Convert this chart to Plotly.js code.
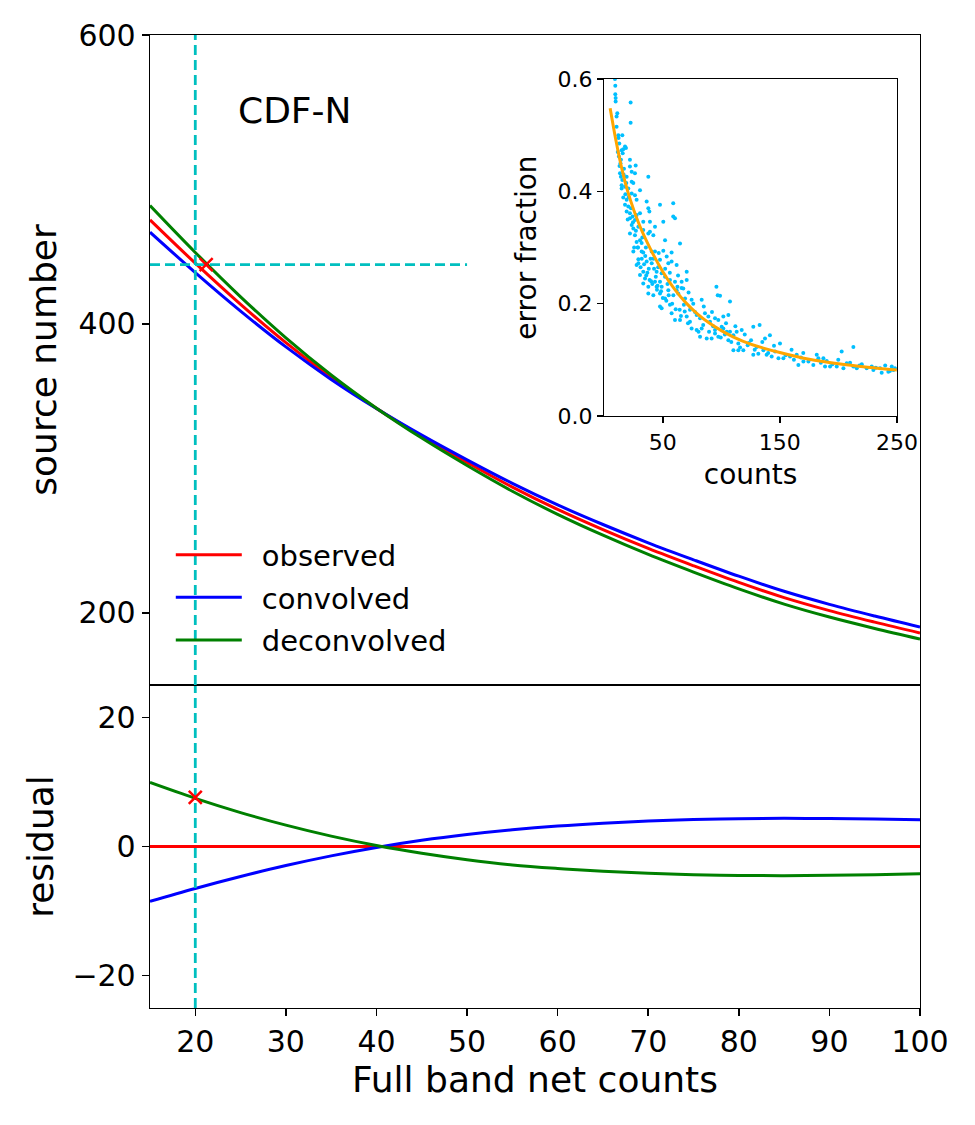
<!DOCTYPE html>
<html>
<head>
<meta charset="utf-8">
<script src="https://cdn.plot.ly/plotly-3.0.1.min.js"></script>
<style>html,body{margin:0;padding:0;background:#fff;}#chart{width:975px;height:1125px;}</style>
</head>
<body>
<div id="chart"></div>
<script>
// ---- main panel data (Full band net counts) ----
var counts = [15, 20, 25, 30, 35, 40, 45, 50, 55, 60, 65, 70, 75, 80, 85, 90, 95, 100];
var observed = [472, 442, 413.5, 387, 363, 341.5, 322, 304, 287, 271.5, 257.5, 244.5, 232.5, 221, 210.5, 201.5, 193.5, 186];
var residConvolved = [-8.5, -6.5, -4.65, -2.95, -1.45, -0.15, 0.95, 1.85, 2.58, 3.16, 3.6, 3.93, 4.16, 4.3, 4.35, 4.32, 4.24, 4.12];
var residDeconvolved = [9.9, 7.45, 5.25, 3.3, 1.6, 0.15, -1.05, -2.05, -2.85, -3.4, -3.83, -4.15, -4.37, -4.49, -4.52, -4.47, -4.37, -4.22];
var residObserved = [0, 0, 0, 0, 0, 0, 0, 0, 0, 0, 0, 0, 0, 0, 0, 0, 0, 0];

// guide lines and marked point
var guideX = 20;
var guideY = 441;
var guideXEnd = 50;
var markUpper = {x: 21.2, y: 441};
var markLower = {x: 20, y: 7.6};

// ---- inset data ----
var fitCounts = [5, 10, 15, 20, 30, 40, 50, 60, 70, 80, 90, 100, 110, 125, 150, 175, 200, 225, 250];
var fitError  = [0.548, 0.49, 0.44, 0.40, 0.34, 0.295, 0.257, 0.226, 0.201, 0.181, 0.165, 0.152, 0.141, 0.128, 0.113, 0.101, 0.093, 0.087, 0.082];

var scatterCounts = [
 9.1, 9.4, 9.4, 9.7, 9.7, 22.5, 11.1, 10.5, 22.5, 10.5, 12.0, 15.4, 12.8, 17.7, 18.5, 16.2, 15.7, 14.8,
 12.5, 14.2, 21.9, 26.8, 21.9, 23.4, 26.2, 13.4, 14.2, 15.4, 19.1, 37.6, 23.4, 24.8, 30.5, 14.8, 17.7, 20.5,
 14.8, 23.4, 26.2, 16.2, 19.1, 27.6, 36.2, 17.7, 20.5, 47.6, 58.9, 19.1, 21.9, 24.2, 27.6, 30.5, 37.6, 38.5,
 21.9, 26.2, 33.3, 39.0, 58.9, 60.4, 50.4, 23.4, 24.8, 29.1, 33.3, 39.0, 43.3, 21.9, 26.2, 37.6, 41.9, 51.9,
 64.7, 30.5, 27.6, 31.9, 24.8, 31.9, 33.3, 40.5, 43.3, 50.4, 53.3, 57.5, 47.6, 29.1,
 29.1, 36.2, 27.6, 40.5, 54.7, 57.5, 61.8, 33.3, 44.7, 30.5, 49.0, 51.9, 70.4, 70.4, 34.8, 38.7, 43.3, 47.6,
 56.1, 60.4, 66.1, 33.3, 37.6, 44.7, 49.0, 54.7, 61.8, 67.5, 37.6, 41.9, 47.6, 51.9, 59.0, 63.2, 69.0, 74.6,
 83.2, 95.8, 96.9, 98.9, 107.4, 47.6, 49.0, 56.1, 57.5, 64.4, 68.7, 73.2, 60.4, 64.7, 70.4, 73.2, 78.9, 81.8,
 86.0, 88.9, 90.3, 94.6, 97.4, 101.7, 106.0, 74.6, 78.9, 83.2, 81.8, 87.5, 91.7, 94.6, 97.4, 100.3, 101.7, 104.6,
 107.4, 110.3, 113.1, 117.4, 94.6, 106.0, 110.3, 114.5, 118.8, 114.5, 122.5, 125.4, 127.3, 132.7, 130.2, 127.3, 131.6, 135.9,
 137.3, 141.5, 138.7, 143.0, 145.9, 150.1, 148.8, 153.0, 158.7, 164.4, 165.8, 170.1, 174.4, 178.6, 181.5, 182.9, 187.2, 188.6,
 192.9, 198.6, 199.9, 202.8, 204.3, 207.1, 212.8, 212.8, 215.7, 224.2, 228.5, 229.9, 235.6, 237.0, 242.7, 245.6, 247.0, 248.4,
 35.0, 42.0, 46.0, 52.0, 38.0, 31.0, 44.0, 56.0, 63.0, 66.0, 72.0, 76.0, 85.0, 92.0, 104.0, 112.0, 120.0, 135.0,
 145.0, 160.0, 170.0, 190.0, 210.0, 220.0, 240.0, 11.5, 13.0, 16.8, 18.0, 20.0, 25.5, 28.5, 34.0, 45.0, 55.0,
 12.2, 13.8, 16.5, 18.8, 20.8, 22.8, 24.5, 27.0, 28.8, 32.5, 35.5, 36.8, 40.0, 42.5, 45.5, 48.5, 53.0, 62.5,
 32.0, 35.8, 39.5, 41.0, 46.5, 50.0, 54.0, 58.0, 61.0, 65.5, 68.0, 71.5, 77.5, 80.5, 84.5, 89.5, 93.0, 99.5,
 103.0, 108.5, 116.0, 123.5, 128.5, 140.0, 155.0, 162.0, 168.0, 185.0, 195.0, 218.0, 232.0, 244.0
];
var scatterError = [
 0.600, 0.588, 0.573, 0.566, 0.560, 0.558, 0.539, 0.533, 0.522, 0.515, 0.500, 0.500, 0.485, 0.480, 0.477, 0.475, 0.468, 0.473,
 0.462, 0.456, 0.456, 0.446, 0.444, 0.435, 0.432, 0.432, 0.426, 0.420, 0.426, 0.426, 0.417, 0.415, 0.402, 0.411, 0.408, 0.405,
 0.405, 0.396, 0.393, 0.389, 0.385, 0.385, 0.382, 0.376, 0.373, 0.376, 0.379, 0.364, 0.361, 0.355, 0.358, 0.361, 0.370, 0.364,
 0.352, 0.349, 0.346, 0.346, 0.355, 0.352, 0.346, 0.340, 0.334, 0.337, 0.331, 0.328, 0.337, 0.325, 0.322, 0.325, 0.322, 0.313,
 0.307, 0.313, 0.310, 0.308, 0.293, 0.293, 0.291, 0.293, 0.293, 0.294, 0.284, 0.291, 0.278, 0.279,
 0.272, 0.275, 0.269, 0.272, 0.272, 0.275, 0.269, 0.257, 0.257, 0.251, 0.254, 0.248, 0.257, 0.242, 0.245, 0.242, 0.239, 0.239,
 0.242, 0.239, 0.239, 0.236, 0.230, 0.230, 0.230, 0.224, 0.224, 0.227, 0.218, 0.215, 0.218, 0.209, 0.215, 0.218, 0.209, 0.207,
 0.207, 0.230, 0.215, 0.214, 0.204, 0.195, 0.192, 0.198, 0.183, 0.189, 0.186, 0.189, 0.171, 0.171, 0.177, 0.168, 0.180, 0.174,
 0.183, 0.177, 0.168, 0.174, 0.171, 0.177, 0.180, 0.156, 0.153, 0.156, 0.141, 0.138, 0.138, 0.147, 0.141, 0.159, 0.156, 0.150,
 0.150, 0.144, 0.150, 0.153, 0.153, 0.135, 0.117, 0.117, 0.117, 0.129, 0.126, 0.135, 0.159, 0.162, 0.123, 0.109, 0.111, 0.117,
 0.138, 0.144, 0.109, 0.106, 0.115, 0.129, 0.103, 0.103, 0.106, 0.109, 0.091, 0.097, 0.097, 0.091, 0.109, 0.103, 0.103, 0.088,
 0.088, 0.088, 0.100, 0.115, 0.085, 0.094, 0.123, 0.088, 0.085, 0.085, 0.088, 0.082, 0.085, 0.077, 0.079, 0.088, 0.082, 0.085,
 0.285, 0.280, 0.265, 0.262, 0.262, 0.265, 0.248, 0.255, 0.250, 0.228, 0.220, 0.200, 0.195, 0.185, 0.165, 0.160, 0.145, 0.132,
 0.125, 0.118, 0.112, 0.098, 0.095, 0.092, 0.090, 0.470, 0.445, 0.440, 0.395, 0.350, 0.300, 0.300, 0.270, 0.225, 0.215,
 0.495, 0.450, 0.430, 0.415, 0.390, 0.370, 0.345, 0.330, 0.300, 0.318, 0.300, 0.255, 0.240, 0.262, 0.232, 0.222, 0.205, 0.230,
 0.280, 0.250, 0.280, 0.235, 0.290, 0.210, 0.235, 0.200, 0.190, 0.178, 0.198, 0.165, 0.185, 0.150, 0.162, 0.150, 0.160, 0.140,
 0.145, 0.132, 0.122, 0.130, 0.118, 0.112, 0.108, 0.100, 0.104, 0.095, 0.092, 0.090, 0.086, 0.080
];

// derived model curves = observed + residual
var convolved = observed.map(function (v, i) { return v + residConvolved[i]; });
var deconvolved = observed.map(function (v, i) { return v + residDeconvolved[i]; });

var FONT = 'DejaVu Sans, sans-serif';
var CYAN = '#00BFBF';
var LW = 3;
var NB = '\u00a0\u2009';

var traces = [
  {x: counts, y: observed, xaxis: 'x2', yaxis: 'y2', mode: 'lines', name: NB + 'observed', legendgroup: 'a',
   line: {color: '#FF0000', width: LW, shape: 'spline'}},
  {x: counts, y: convolved, xaxis: 'x2', yaxis: 'y2', mode: 'lines', name: NB + 'convolved', legendgroup: 'b',
   line: {color: '#0000FF', width: LW, shape: 'spline'}},
  {x: counts, y: deconvolved, xaxis: 'x2', yaxis: 'y2', mode: 'lines', name: NB + 'deconvolved', legendgroup: 'c',
   line: {color: '#008000', width: LW, shape: 'spline'}},
  {x: [guideX, guideX], y: [150, 600], xaxis: 'x2', yaxis: 'y2', mode: 'lines', showlegend: false,
   line: {color: CYAN, width: 2.8, dash: '10px,5px'}},
  {x: [counts[0], guideXEnd], y: [guideY, guideY], xaxis: 'x2', yaxis: 'y2', mode: 'lines', showlegend: false,
   line: {color: CYAN, width: 2.8, dash: '10px,5px'}},
  {x: [markUpper.x], y: [markUpper.y], xaxis: 'x2', yaxis: 'y2', mode: 'markers', showlegend: false,
   marker: {symbol: 'x-thin', size: 13, color: '#FF0000', line: {color: '#FF0000', width: 2.5}}},

  {x: counts, y: residObserved, xaxis: 'x', yaxis: 'y', mode: 'lines', showlegend: false,
   line: {color: '#FF0000', width: LW}},
  {x: counts, y: residConvolved, xaxis: 'x', yaxis: 'y', mode: 'lines', showlegend: false,
   line: {color: '#0000FF', width: LW, shape: 'spline'}},
  {x: counts, y: residDeconvolved, xaxis: 'x', yaxis: 'y', mode: 'lines', showlegend: false,
   line: {color: '#008000', width: LW, shape: 'spline'}},
  {x: [guideX, guideX], y: [-25, 25], xaxis: 'x', yaxis: 'y', mode: 'lines', showlegend: false,
   line: {color: CYAN, width: 2.8, dash: '10px,5px'}},
  {x: [markLower.x], y: [markLower.y], xaxis: 'x', yaxis: 'y', mode: 'markers', showlegend: false,
   marker: {symbol: 'x-thin', size: 13, color: '#FF0000', line: {color: '#FF0000', width: 2.5}}},

  {x: scatterCounts, y: scatterError, xaxis: 'x3', yaxis: 'y3', mode: 'markers', showlegend: false,
   marker: {color: '#00BFFF', size: 4}, cliponaxis: true},
  {x: fitCounts, y: fitError, xaxis: 'x3', yaxis: 'y3', mode: 'lines', showlegend: false,
   line: {color: '#FFA500', width: 3, shape: 'spline'}}
];

var axisCommon = {
  showline: true, mirror: true, linecolor: '#000', linewidth: 1.3,
  ticks: 'outside', ticklen: 7, tickwidth: 1.5, tickcolor: '#000',
  showgrid: false, zeroline: false,
  tickfont: {family: FONT, size: 30, color: '#000'}
};
function ax(o) { var r = {}; for (var k in axisCommon) r[k] = axisCommon[k]; for (var k2 in o) r[k2] = o[k2]; return r; }

var layout = {
  width: 975, height: 1125,
  margin: {l: 150, r: 55, t: 35, b: 117},
  paper_bgcolor: '#fff', plot_bgcolor: '#fff',
  font: {family: FONT, color: '#000'},
  showlegend: true,
  legend: {x: 0.027, y: 0.492, xanchor: 'left', yanchor: 'top', bgcolor: 'rgba(0,0,0,0)',
           font: {family: FONT, size: 29, color: '#000'}, itemwidth: 66, tracegroupgap: 2},
  xaxis: ax({domain: [0, 1], range: [15, 100], anchor: 'y', tickvals: [20, 30, 40, 50, 60, 70, 80, 90, 100],
             title: {text: 'Full band net counts', font: {family: FONT, size: 36}, standoff: 8}}),
  yaxis: ax({domain: [0, 0.332], range: [-25, 25], anchor: 'x', tickvals: [-20, 0, 20],
             title: {text: 'residual', font: {family: FONT, size: 36}, standoff: 7}}),
  xaxis2: ax({domain: [0, 1], range: [15, 100], anchor: 'y2', matches: 'x', showticklabels: false, ticks: ''}),
  yaxis2: ax({domain: [0.332, 1], range: [150, 600], anchor: 'x2', tickvals: [200, 400, 600],
              title: {text: 'source number', font: {family: FONT, size: 36}, standoff: 10}}),
  xaxis3: ax({domain: [0.590, 0.970], range: [0, 250], anchor: 'y3', tickvals: [50, 150, 250],
              tickfont: {family: FONT, size: 22}, ticklen: 6,
              title: {text: 'counts', font: {family: FONT, size: 28}, standoff: 10}}),
  yaxis3: ax({domain: [0.6084, 0.9548], range: [0, 0.6], anchor: 'x3', tickvals: [0, 0.2, 0.4, 0.6], tickformat: '.1f',
              tickfont: {family: FONT, size: 22}, ticklen: 6,
              title: {text: 'error fraction', font: {family: FONT, size: 28}, standoff: 12}}),
  annotations: [
    {text: 'CDF-N', xref: 'paper', yref: 'paper', x: 0.188, y: 0.922, xanchor: 'center', yanchor: 'middle',
     showarrow: false, font: {family: FONT, size: 36, color: '#000'}}
  ]
};

Plotly.newPlot('chart', traces, layout, {displayModeBar: false, staticPlot: true});
</script>
</body>
</html>
